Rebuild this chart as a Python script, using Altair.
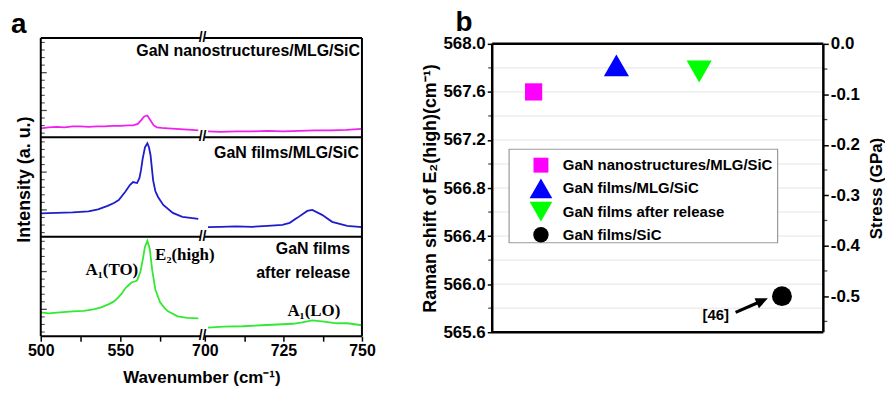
import altair as alt
import pandas as pd

FONT = "Liberation Sans"
SERIF = "Liberation Serif"

# ---------------- panel a : Raman spectra (intensity in % of each sub-panel) ----------------
series = ["GaN nanostructures/MLG/SiC", "GaN films/MLG/SiC", "GaN films after release"]
series_colors = ["#ee22ee", "#1d1dcc", "#33e833"]

mag_wn = [500, 505, 510, 515, 520, 525, 530, 535, 540, 545, 550, 555, 558, 561, 563, 565, 567, 569, 571, 573,
          576, 580, 585, 590, 595, 599,
          701, 705, 710, 715, 720, 725, 730, 735, 740, 745, 750]
mag_int = [9, 10, 10.5, 10, 11, 11, 10.5, 11, 11, 11.5, 11.5, 12, 12, 13.5, 17, 21, 22, 17, 12, 10,
           9.5, 9, 8.5, 8, 7.5, 7,
           6, 5.5, 6, 6, 6.5, 6, 6.5, 7, 7, 7.5, 8.5]

blue_wn = [500, 510, 520, 530, 536, 542, 546, 549, 553, 556, 558, 560.5, 562, 563, 564, 565.5, 567, 568, 569,
           570.6, 572, 573.7, 577, 583, 589, 594, 599,
           701, 705, 710, 715, 720, 724.7, 727, 729.4, 732.6, 734.2, 737.3, 740.5, 745.3, 750]
blue_int = [23.5, 24, 24.5, 25.5, 27.5, 31, 34, 37, 45, 52, 55, 54, 59, 67, 78, 90, 94, 90, 82,
            57, 46, 40, 32, 24, 20, 19, 18,
            9.7, 10, 10.5, 10, 11, 12, 14, 19, 26, 27, 22, 15, 11, 9.7]

green_wn = [500, 505, 512, 520, 527, 533, 538, 542.5, 546, 548.75, 551, 553, 555, 557, 559, 560.5, 562.5, 564,
            565.5, 567, 568.5, 570, 572, 575, 578, 580, 586, 592, 599,
            701, 706, 712, 718, 724.7, 728, 731, 734.2, 737.3, 742, 745.3, 750]
green_int = [24, 23, 24, 25, 25.5, 27, 29, 32, 35, 39, 43, 48, 51, 54, 55, 56, 64, 76,
             90, 96, 88, 67, 47, 34, 28, 25, 20, 18.5, 18,
             8.7, 9.7, 10, 11, 12, 12.5, 14, 16, 15, 13, 13, 11]

x_tick_wn = [500, 525, 550, 575, 700, 712.5, 725, 737.5, 750]
x_tick_labels = ["500", "", "550", "", "700", "", "725", "", "750"]

y_tick_major = [0.27, 0.65]
y_tick_minor = [0.042, 0.118, 0.194, 0.346, 0.422, 0.498, 0.574, 0.726, 0.802, 0.878, 0.954]

ann_sans = ["GaN nanostructures/MLG/SiC", "GaN films/MLG/SiC", "GaN films", "after release"]
ann_sans_x = [321, 320, 311, 311]
ann_sans_y = [287, 184, 88, 64]
ann_serif_r = ["A\u2081(TO)"]
ann_serif_r_x = [98]
ann_serif_r_y = [67]
ann_serif_l = ["E\u2082(high)", "A\u2081(LO)"]
ann_serif_l_x = [115, 248]
ann_serif_l_y = [82, 25]

# ---------------- panel b : E2(high) shift / stress ----------------
samples = ["GaN nanostructures/MLG/SiC", "GaN films/MLG/SiC", "GaN films after release", "GaN films/SiC"]
sample_pos = [1, 2, 3, 4]
raman_shift = [567.6, 567.82, 567.77, 565.9]
sample_shapes = ["square", "triangle-up", "triangle-down", "circle"]
sample_colors = ["#ff00ff", "#0000ff", "#00ff00", "#000000"]
sample_sizes = [300, 640, 640, 400]
legend_sizes = [225, 520, 520, 240]

left_ticks = [565.6, 566.0, 566.4, 566.8, 567.2, 567.6, 568.0]
left_minor = [565.8, 566.2, 566.6, 567.0, 567.4, 567.8]
grid_vals = [565.8, 566.0, 566.2, 566.4, 566.6, 566.8, 567.0, 567.2, 567.4, 567.6, 567.8]
stress_ticks = [0.0, -0.1, -0.2, -0.3, -0.4, -0.5]
stress_minor = [-0.05, -0.15, -0.25, -0.35, -0.45, -0.55]
SHIFT_PER_GPA = 4.2
stress_min = (left_ticks[0] - left_ticks[-1]) / SHIFT_PER_GPA

arrow_start = (3.44, 565.765)
arrow_tip = (3.83, 565.882)
ref_text = "[46]"
ref_pos = (3.20, 565.74)

# ======================= build panel a =======================
rows = []
for name, wns, ints, panel in [(series[0], mag_wn, mag_int, 2),
                               (series[1], blue_wn, blue_int, 1),
                               (series[2], green_wn, green_int, 0)]:
    for w, v in zip(wns, ints):
        rows.append({"series": name, "wn": w, "inten": v, "panel": panel})
spec_df = pd.DataFrame(rows)


def brk(w):
    return (w - 500) * 1.6 if w < 650 else 165 + (w - 700) * 3.16


BRK_EXPR = "datum.wn < 650 ? (datum.wn - 500) * 1.6 : 165 + (datum.wn - 700) * 3.16"
XMAX = brk(750)
YTOP = 300          # top of the stacked frame (drawn slightly above the plot area)
HA = 294            # plot-area height of panel a (aligned with panel b's top)
BRK_LO, BRK_HI = 161, 164.5

xs_a = alt.Scale(domain=[0, XMAX], nice=False, zero=False)
ys_a = alt.Scale(domain=[0, HA], nice=False, zero=False)

tick_pos = [brk(w) for w in x_tick_wn]
label_expr = " : ".join(f"datum.value == {p} ? '{l}'" for p, l in zip(tick_pos, x_tick_labels)) + " : ''"

ax_xa = alt.Axis(values=tick_pos, labelExpr=label_expr, title="Wavenumber (cm\u207b\u00b9)",
                 domain=False, grid=False, tickSize=5, tickWidth=1.5, labelFontSize=16, titleFontSize=17,
                 labelPadding=1, titlePadding=12, labelFlush=False, labelOverlap=False)
ax_ya = alt.Axis(title="Intensity (a. u.)", labels=False, ticks=False, domain=False, grid=False,
                 titleFontSize=18, titlePadding=7, titleY=136)


def XA(f):
    return alt.X(f, scale=xs_a, axis=ax_xa)


def YA(f):
    return alt.Y(f, scale=ys_a, axis=ax_ya)


lines = alt.Chart(spec_df).transform_calculate(
    pos=BRK_EXPR, yv="datum.inten + 100 * datum.panel", seg="datum.wn < 650 ? 'L' : 'R'"
).mark_line(strokeWidth=1.8).encode(
    x=XA("pos:Q"), y=YA("yv:Q"),
    color=alt.Color("series:N", scale=alt.Scale(domain=series, range=series_colors), legend=None),
    detail="seg:N",
    order=alt.Order("wn:Q"),
)

frame_rows = []
for yv in [0, 100, 200, YTOP]:
    frame_rows.append({"x": 0, "x2": BRK_LO, "y": yv})
    frame_rows.append({"x": BRK_HI, "x2": XMAX, "y": yv})
frame_h = alt.Chart(pd.DataFrame(frame_rows)).mark_rule(color="black", strokeWidth=2).encode(
    x=XA("x:Q"), x2="x2:Q", y=YA("y:Q"))
frame_v = alt.Chart(pd.DataFrame({"x": [0, XMAX], "y": [0, 0], "y2": [YTOP, YTOP]})).mark_rule(
    color="black", strokeWidth=2).encode(x=XA("x:Q"), y=YA("y:Q"), y2="y2:Q")
breaks = alt.Chart(pd.DataFrame({"x": [(BRK_LO + BRK_HI) / 2] * 4, "y": [0, 100, 200, YTOP], "t": ["//"] * 4})).mark_text(
    font=FONT, fontSize=14, fontWeight="bold", color="black", baseline="middle").encode(
    x=XA("x:Q"), y=YA("y:Q"), text="t:N")

yt_rows = []
for p in range(3):
    for f in y_tick_major:
        yt_rows.append({"t": 100 * p + 100 * f, "kind": "major"})
    for f in y_tick_minor:
        yt_rows.append({"t": 100 * p + 100 * f, "kind": "minor"})
yt_df = pd.DataFrame(yt_rows)
yt_major = alt.Chart(yt_df).transform_filter("datum.kind == 'major'").mark_tick(
    orient="horizontal", color="black", thickness=1.3).encode(
    y=YA("t:Q"), x=alt.value(3), size=alt.value(6))
yt_minor = alt.Chart(yt_df).transform_filter("datum.kind == 'minor'").mark_tick(
    orient="horizontal", color="black", thickness=1.1).encode(
    y=YA("t:Q"), x=alt.value(2), size=alt.value(4))

sans_txt = alt.Chart(pd.DataFrame({"t": ann_sans, "x": ann_sans_x, "y": ann_sans_y})).mark_text(
    font=FONT, fontSize=16, fontWeight="bold", color="black", align="right", baseline="middle").encode(
    x=XA("x:Q"), y=YA("y:Q"), text="t:N")
serif_r = alt.Chart(pd.DataFrame({"t": ann_serif_r, "x": ann_serif_r_x, "y": ann_serif_r_y})).mark_text(
    font=SERIF, fontSize=17, fontWeight="bold", color="black", align="right", baseline="middle").encode(
    x=XA("x:Q"), y=YA("y:Q"), text="t:N")
serif_l = alt.Chart(pd.DataFrame({"t": ann_serif_l, "x": ann_serif_l_x, "y": ann_serif_l_y})).mark_text(
    font=SERIF, fontSize=17, fontWeight="bold", color="black", align="left", baseline="middle").encode(
    x=XA("x:Q"), y=YA("y:Q"), text="t:N")

label_a = alt.Chart(pd.DataFrame({"t": ["a"], "x": [0], "y": [HA]})).mark_text(
    font=FONT, fontSize=28, fontWeight="bold", color="black", align="left", baseline="alphabetic",
    dx=-30, dy=-11).encode(text="t:N", x=XA("x:Q"), y=YA("y:Q"))

panel_a = alt.layer(lines, frame_h, frame_v, breaks, yt_major, yt_minor, sans_txt, serif_r, serif_l, label_a
                    ).properties(width=XMAX, height=HA)

# ======================= build panel b =======================
WB, HB = 333, 290
xs_b = alt.Scale(domain=[0.5, 4.5], nice=False, zero=False)
ys_left = alt.Scale(domain=[left_ticks[0], left_ticks[-1]], nice=False, zero=False)
ys_right = alt.Scale(domain=[stress_min, 0], nice=False, zero=False)
shape_scale = alt.Scale(domain=samples, range=sample_shapes)
color_scale = alt.Scale(domain=samples, range=sample_colors)

grid = alt.Chart(pd.DataFrame({"g": grid_vals})).mark_rule(color="#e4e4e4", strokeWidth=1).encode(
    y=alt.Y("g:Q", scale=ys_left, axis=alt.Axis(
        values=left_ticks, format=".1f", title="Raman shift of E\u2082(high)(cm\u207b\u00b9)",
        domain=False, grid=False, tickSize=5, tickWidth=1.5, labelFontSize=17, labelPadding=2,
        titleFontSize=18, titlePadding=3)))
frame_b_h = alt.Chart(pd.DataFrame({"g": [left_ticks[0], left_ticks[-1]]})).mark_rule(
    color="black", strokeWidth=2.5).encode(y=alt.Y("g:Q", scale=ys_left, axis=None))
frame_b_v = alt.Chart(pd.DataFrame({"x": [0.5, 4.5]})).mark_rule(
    color="black", strokeWidth=2.5).encode(x=alt.X("x:Q", scale=xs_b, axis=None))
lminor = alt.Chart(pd.DataFrame({"t": left_minor})).mark_tick(orient="horizontal", color="black", thickness=1.3).encode(
    y=alt.Y("t:Q", scale=ys_left, axis=None), x=alt.value(-2), size=alt.value(4))
stress_axis = alt.Chart(pd.DataFrame({"s": stress_ticks, "x": [1] * len(stress_ticks)})).mark_point(opacity=0).encode(
    x=alt.X("x:Q", scale=xs_b, axis=None),
    y=alt.Y("s:Q", scale=ys_right, axis=alt.Axis(
        orient="right", values=stress_ticks,
        labelExpr="datum.value < 0 ? '-' + format(-datum.value, '.1f') : format(datum.value, '.1f')",
        title="Stress (GPa)", titleAngle=270, titleBaseline="top", domain=False, grid=False,
        tickSize=5, tickWidth=1.5, labelFontSize=17, labelPadding=2, titleFontSize=17, titlePadding=9)))
rminor = alt.Chart(pd.DataFrame({"t": stress_minor})).mark_tick(orient="horizontal", color="black", thickness=1.3).encode(
    y=alt.Y("t:Q", scale=ys_right, axis=None), x=alt.value(WB + 2), size=alt.value(4))

pts_df = pd.DataFrame({"sample": samples, "marker": samples, "x": sample_pos, "shift": raman_shift})
pts = alt.Chart(pts_df).mark_point(filled=True, opacity=1, strokeWidth=0).encode(
    x=alt.X("x:Q", scale=xs_b, axis=None),
    y=alt.Y("shift:Q", scale=ys_left, axis=None),
    shape=alt.Shape("sample:N", scale=shape_scale, legend=None),
    color=alt.Color("sample:N", scale=color_scale, legend=None),
    size=alt.Size("marker:N", scale=alt.Scale(type="ordinal", domain=samples, range=sample_sizes), legend=None),
)

# legend box drawn with marks (rows placed by a point scale)
leg_y = alt.Y("sample:N", scale=alt.Scale(type="point", domain=samples, range=[122, 192], padding=0), axis=None)
leg_box = alt.Chart(pd.DataFrame({"k": [0]})).mark_rect(
    fill="white", stroke="#9a9a9a", strokeWidth=1.2).encode(
    x=alt.value(17), x2=alt.value(287), y=alt.value(106), y2=alt.value(200))
leg_sym = alt.Chart(pts_df).mark_point(filled=True, opacity=1, strokeWidth=0).encode(
    x=alt.value(49), y=leg_y,
    shape=alt.Shape("sample:N", scale=shape_scale, legend=None),
    color=alt.Color("sample:N", scale=color_scale, legend=None),
    size=alt.Size("legsize:N", scale=alt.Scale(type="ordinal", domain=samples, range=legend_sizes), legend=None),
).transform_calculate(legsize="datum.sample")
leg_txt = alt.Chart(pts_df).mark_text(
    font=FONT, fontSize=15, fontWeight="bold", color="black", align="left", baseline="middle").encode(
    x=alt.value(71), y=leg_y, text="sample:N")

frac = 0.72
shaft_df = pd.DataFrame({"x": [arrow_start[0]], "y": [arrow_start[1]],
                         "x2": [arrow_start[0] + frac * (arrow_tip[0] - arrow_start[0])],
                         "y2": [arrow_start[1] + frac * (arrow_tip[1] - arrow_start[1])]})
shaft = alt.Chart(shaft_df).mark_rule(color="black", strokeWidth=3.2).encode(
    x=alt.X("x:Q", scale=xs_b, axis=None), x2="x2:Q", y=alt.Y("y:Q", scale=ys_left, axis=None), y2="y2:Q")
head = alt.Chart(pd.DataFrame({"x": [arrow_tip[0]], "y": [arrow_tip[1]]})).mark_point(
    shape="M0,0L-0.6,1.35L0.6,1.35Z", filled=True, color="black", opacity=1, size=330, angle=66).encode(
    x=alt.X("x:Q", scale=xs_b, axis=None), y=alt.Y("y:Q", scale=ys_left, axis=None))
ref = alt.Chart(pd.DataFrame({"t": [ref_text], "x": [ref_pos[0]], "y": [ref_pos[1]]})).mark_text(
    font=FONT, fontSize=15, fontWeight="bold", color="black", baseline="middle").encode(
    x=alt.X("x:Q", scale=xs_b, axis=None), y=alt.Y("y:Q", scale=ys_left, axis=None), text="t:N")

label_b = alt.Chart(pd.DataFrame({"t": ["b"], "x": [0.5], "y": [left_ticks[-1]]})).mark_text(
    font=FONT, fontSize=28, fontWeight="bold", color="black", align="left", baseline="alphabetic",
    dx=-37, dy=-13).encode(
    text="t:N", x=alt.X("x:Q", scale=xs_b, axis=None), y=alt.Y("y:Q", scale=ys_left, axis=None))

panel_b = alt.layer(grid, frame_b_h, frame_b_v, lminor, stress_axis, rminor, pts,
                    leg_box, leg_sym, leg_txt, shaft, head, ref, label_b
                    ).resolve_scale(y="independent", size="independent").properties(width=WB, height=HB)

chart = alt.hconcat(panel_a, panel_b, spacing=45).resolve_scale(
    color="independent", shape="independent", size="independent"
).properties(
    padding={"left": 10, "top": 7, "right": 0, "bottom": 0}
).configure_view(stroke="transparent").configure_axis(
    labelFont=FONT, titleFont=FONT, labelFontWeight="bold", titleFontWeight="bold",
    labelColor="black", titleColor="black", tickColor="black"
).configure_text(font=FONT)

chart.save("out.html", embed_options={"renderer": "svg", "actions": False})
